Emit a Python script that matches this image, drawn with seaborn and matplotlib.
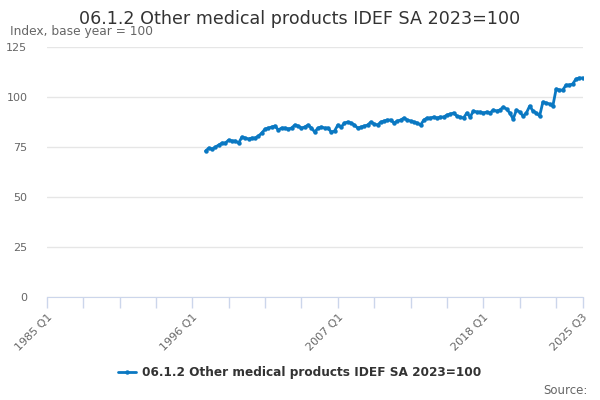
import numpy as np
import pandas as pd
import seaborn as sns
import matplotlib.pyplot as plt

# Quarterly index, first value 1997 Q1, last 2025 Q3
start_year = 1997
values = [
    73, 74.5, 74, 75, 76, 77, 77, 78.5, 78, 78, 77, 80,
    79.5, 79, 79.5, 79.5, 80.5, 82, 84, 84.5, 85, 85.5, 83.5, 84.5,
    84.5, 84, 84.5, 86, 85.5, 84.5, 85, 86, 84.5, 82.5, 84.5, 85,
    84.5, 84.5, 82.5, 83, 86, 85, 87, 87.5, 87, 86, 84.5, 85,
    85.5, 86, 87.5, 86.5, 86, 87.5, 88, 88.5, 88.5, 87, 88, 88.5,
    89.5, 88.5, 88, 87.5, 87, 86, 88.5, 89.5, 89.5, 90, 89.5, 90,
    90, 91, 91.5, 92, 90.5, 90, 89.5, 92, 90, 93, 92.5, 92.5,
    92, 92.5, 92, 93.5, 93, 93.5, 95, 94, 92, 89, 93.5, 92.5,
    90.5, 92, 95.5, 93, 92, 90.5, 97.5, 97, 96.5, 95.5, 104, 103.5,
    103.5, 106, 106, 106.5, 109, 109.5, 109.5,
]
tick_labels = ["1985 Q1", "1996 Q1", "2007 Q1", "2018 Q1", "2025 Q3"]
series_name = "06.1.2 Other medical products IDEF SA 2023=100"

# quarter index counted from 1985 Q1
first_idx = (start_year - 1985) * 4
df = pd.DataFrame({
    "q": np.arange(first_idx, first_idx + len(values)),
    "value": values,
})

sns.set_style("white")
plt.rcParams["font.family"] = ["DejaVu Sans"]

fig = plt.figure(figsize=(6, 4), dpi=100)
ax = fig.add_axes([0.078, 0.2575, 0.893, 0.625])

blue = "#0a78c2"
sns.lineplot(data=df, x="q", y="value", ax=ax, color=blue, linewidth=2,
             marker="o", markersize=3.2, markeredgewidth=0, label=series_name)

last_q = 162
ax.set_xlim(0, last_q)
ax.set_ylim(0, 125)
ax.set_yticks(np.arange(0, 126, 25))
ax.grid(axis="y", color="#e6e6e6", linewidth=1)
ax.set_axisbelow(True)
ax.tick_params(axis="y", length=0, labelsize=8, labelcolor="#666666", pad=14)

minor = list(range(0, last_q, 11)) + [last_q]
ax.set_xticks(minor, minor=True)
ax.set_xticks([0, 44, 88, 132, last_q])
ax.set_xticklabels(tick_labels, rotation=45, ha="right", rotation_mode="anchor")
ax.tick_params(axis="x", which="both", bottom=True, direction="out", length=8,
               color="#ccd6eb", width=1, labelsize=8, labelcolor="#666666")
ax.tick_params(axis="x", which="major", pad=3)

for s in ["top", "right", "left"]:
    ax.spines[s].set_visible(False)
ax.spines["bottom"].set_color("#ccd6eb")
ax.set_xlabel("")
ax.set_ylabel("")

fig.text(0.5, 0.953, series_name, ha="center", va="center",
         fontsize=12.6, color="#333333")
fig.text(0.017, 0.92, "Index, base year = 100", ha="left", va="center",
         fontsize=8.8, color="#666666")
fig.text(0.98, 0.025, "Source:", ha="right", va="center",
         fontsize=8.5, color="#666666")

handles, labels = ax.get_legend_handles_labels()
ax.get_legend().remove()
fig.legend(handles, labels, loc="center", bbox_to_anchor=(0.5, 0.068),
           frameon=False, prop={"weight": "bold", "size": 8.7},
           labelcolor="#333333", handlelength=1.5, handletextpad=0.5)

fig.savefig("out.png", dpi=100)
